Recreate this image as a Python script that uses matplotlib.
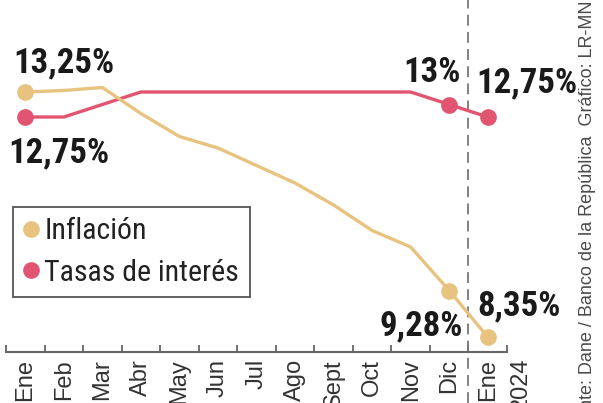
import matplotlib
matplotlib.use('Agg')
import matplotlib.pyplot as plt
from matplotlib import font_manager
from matplotlib.lines import Line2D

# datos (2023 -> enero 2024)
meses = ['Ene', 'Feb', 'Mar', 'Abr', 'May', 'Jun', 'Jul', 'Ago', 'Sept', 'Oct', 'Nov', 'Dic', 'Ene']
anio_final = '2024'
inflacion = [13.25, 13.28, 13.34, 12.82, 12.36, 12.13, 11.78, 11.43, 10.99, 10.48, 10.15, 9.28, 8.35]
tasas = [12.75, 12.75, 13.00, 13.25, 13.25, 13.25, 13.25, 13.25, 13.25, 13.25, 13.25, 13.00, 12.75]
series = ['Inflación', 'Tasas de interés']
fuente = 'Fuente: Dane / Banco de la República  Gráfico: LR-MN'

c_inf = '#E8C37F'
c_tas = '#E25570'

nombres = {f.name for f in font_manager.fontManager.ttflist}
angosta = next((n for n in ['Liberation Sans Narrow', 'Roboto Condensed', 'Open Sans Condensed',
                            'DejaVu Sans Condensed'] if n in nombres), 'Liberation Sans')
normal = 'Liberation Sans'


def fmt(v):
    return f'{v:.2f}'.rstrip('0').rstrip('.').replace('.', ',') + '%'


W, H = 603, 403
fig = plt.figure(figsize=(W / 100, H / 100), dpi=100)
ax = fig.add_axes([6 / W, (H - 352) / H, 501 / W, 352 / H])

x = list(range(len(meses)))
ax.plot(x, tasas, color=c_tas, lw=2.4, zorder=3)
ax.plot(x, inflacion, color=c_inf, lw=2.4, zorder=4)
for i in [0, 11, 12]:
    ax.plot(x[i], tasas[i], 'o', ms=11, color=c_tas, zorder=5)
    ax.plot(x[i], inflacion[i], 'o', ms=11, color=c_inf, zorder=5)

ax.set_xlim(-0.5, 12.5)
ax.set_ylim(8.05, 15.09)
ax.set_yticks([])
for s in ['top', 'left', 'right']:
    ax.spines[s].set_visible(False)
ax.spines['bottom'].set_color('#666')
ax.spines['bottom'].set_linewidth(1.5)

ax.set_xticks(x)
ax.set_xticklabels(meses, rotation=90, fontsize=17, color='#333', family=normal)
ax.tick_params(axis='x', which='major', length=0, pad=5)
ax.set_xticks([i - 0.5 for i in range(len(meses) + 1)], minor=True)
ax.tick_params(axis='x', which='minor', direction='in', length=5, width=1.3, color='#666')
ax.annotate(anio_final, xy=(12, 0), xycoords=('data', 'axes fraction'), xytext=(33, -5),
            textcoords='offset pixels', rotation=90, ha='center', va='top',
            fontsize=17, color='#333', family=normal)

# linea divisoria 2023 / 2024
ax.axvline(11.5, ymin=-51 / 352, ymax=1, clip_on=False, color='#777', lw=1.3, dashes=(6, 3.5))

# etiquetas de valores
etq = dict(textcoords='offset pixels', fontsize=25, color='#1a1a1a', family=angosta,
           weight='bold', va='baseline')
ax.annotate(fmt(inflacion[0]), (0, inflacion[0]), xytext=(-12, 20), ha='left', **etq)
ax.annotate(fmt(tasas[0]), (0, tasas[0]), xytext=(-17, -45), ha='left', **etq)
ax.annotate(fmt(tasas[11]), (11, tasas[11]), xytext=(-17, 23), ha='center', **etq)
ax.annotate(fmt(tasas[12]), (12, tasas[12]), xytext=(-11, 25), ha='left', **etq)
ax.annotate(fmt(inflacion[11]), (11, inflacion[11]), xytext=(14, -45), ha='right', **etq)
ax.annotate(fmt(inflacion[12]), (12, inflacion[12]), xytext=(-10, 22), ha='left', **etq)

handles = [Line2D([], [], marker='o', ls='none', ms=11, color=c) for c in [c_inf, c_tas]]
leg = ax.legend(handles, series, loc='upper left', bbox_to_anchor=(13 / W, 1 - 207 / H),
                bbox_transform=fig.transFigure, fancybox=False, edgecolor='#555', framealpha=1,
                prop={'family': angosta, 'size': 21.5}, handlelength=0.5, handletextpad=0.2,
                borderpad=0.35, labelspacing=0.45, borderaxespad=0)
leg.get_frame().set_linewidth(1.3)
for t in leg.get_texts():
    t.set_color('#222')

fig.text(588 / W, 1 - 1 / H, fuente, rotation=90, ha='center', va='top',
         fontsize=13, color='#4a4a4a', family=normal)

fig.savefig('out.png', dpi=100)
